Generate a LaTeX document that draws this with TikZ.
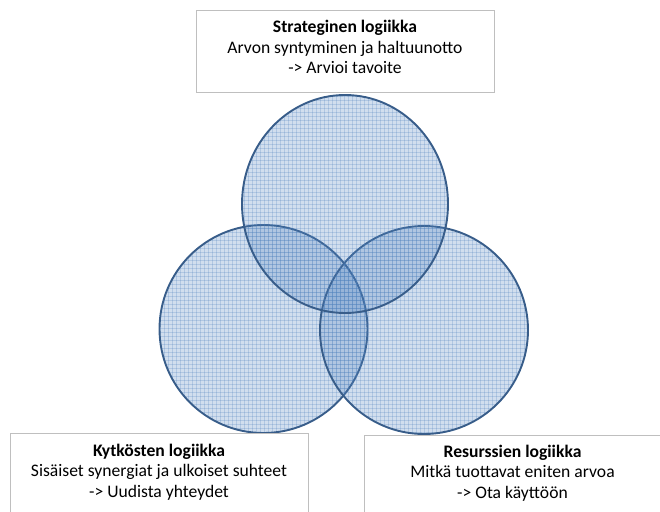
\documentclass[tikz,border=0pt]{standalone}
\usepackage{fontspec}
\setmainfont{Carlito}
\begin{document}
\begin{tikzpicture}[x=1pt,y=-1pt,
  infobox/.style={draw=black!25, line width=0.8pt, fill=white,
    minimum width=298pt, minimum height=82pt, inner sep=0pt},
  infotext/.style={align=center, font=\fontsize{17.6pt}{20.5pt}\selectfont, inner sep=0pt},
  setfill/.style={fill={rgb,255:red,79;green,129;blue,189}, fill opacity=0.26},
  setline/.style={draw={rgb,255:red,56;green,93;blue,138}, line width=1.9pt},
  gridline/.style={draw={rgb,255:red,79;green,129;blue,189}, draw opacity=0.25, line width=0.6pt}
]
\useasboundingbox (0,0) rectangle (660,511);

% one set: tinted disc, fine grid inside it, outline on top
\newcommand{\setdisc}[4]{%
  \fill[setfill] (#1,#2) ellipse [x radius=#3, y radius=#4];
  \begin{scope}
    \clip (#1,#2) ellipse [x radius=#3, y radius=#4];
    \foreach \gx in {0,4,...,660} {\draw[gridline] (\gx,0) -- (\gx,511);}
    \foreach \gy in {0,4,...,511} {\draw[gridline] (0,\gy) -- (660,\gy);}
  \end{scope}
  \draw[setline] (#1,#2) ellipse [x radius=#3, y radius=#4];
}

% the three logics, drawn left, right, top
\setdisc{263.5}{329}{104}{104}
\setdisc{424}{330}{104}{104}
\setdisc{345}{204}{103}{109}

% description boxes
\node[infobox] (strat) at (345,51) {};
\node[infotext] (strattext) at (345,47)
  {\textbf{Strateginen logiikka}\\Arvon syntyminen ja haltuunotto\\-> Arvioi tavoite};

\node[infobox] (kyt) at (159,474) {};
\node[infotext] (kyttext) at (159,472)
  {\textbf{Kytkösten logiikka}\\Sisäiset synergiat ja ulkoiset suhteet\\-> Uudista yhteydet};

\node[infobox] (res) at (513.5,476) {};
\node[infotext] (restext) at (512.5,473)
  {\textbf{Resurssien logiikka}\\Mitkä tuottavat eniten arvoa\\-> Ota käyttöön};
\end{tikzpicture}
\end{document}
